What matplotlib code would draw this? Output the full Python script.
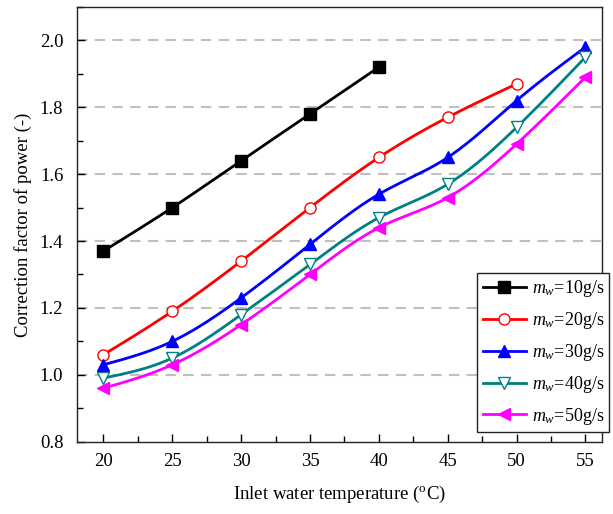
import numpy as np
import matplotlib
matplotlib.use("Agg")
import matplotlib.pyplot as plt
from matplotlib.ticker import MultipleLocator

plt.rcParams["font.family"] = ["Liberation Serif", "DejaVu Serif"]
plt.rcParams["mathtext.fontset"] = "custom"
plt.rcParams["mathtext.rm"] = "Liberation Serif"
plt.rcParams["mathtext.it"] = "Liberation Serif:italic"

# data
temp = [20, 25, 30, 35, 40, 45, 50, 55]
cf_10 = [1.37, 1.50, 1.64, 1.78, 1.92]
cf_20 = [1.06, 1.19, 1.34, 1.50, 1.65, 1.77, 1.87]
cf_30 = [1.03, 1.10, 1.23, 1.39, 1.54, 1.65, 1.82, 1.98]
cf_40 = [0.99, 1.05, 1.18, 1.33, 1.47, 1.57, 1.74, 1.95]
cf_50 = [0.96, 1.03, 1.15, 1.30, 1.44, 1.53, 1.69, 1.89]
labels = ["$m_w$=10g/s", "$m_w$=20g/s", "$m_w$=30g/s", "$m_w$=40g/s", "$m_w$=50g/s"]


def spline(x, y, n=200):
    # natural cubic spline, only used to draw a smooth connecting line
    x = np.asarray(x, float)
    y = np.asarray(y, float)
    k = len(x)
    h = np.diff(x)
    A = np.zeros((k, k))
    b = np.zeros(k)
    A[0, 0] = A[-1, -1] = 1
    for i in range(1, k - 1):
        A[i, i - 1] = h[i - 1]
        A[i, i] = 2 * (h[i - 1] + h[i])
        A[i, i + 1] = h[i]
        b[i] = 6 * ((y[i + 1] - y[i]) / h[i] - (y[i] - y[i - 1]) / h[i - 1])
    M = np.linalg.solve(A, b)
    xs = np.linspace(x[0], x[-1], n)
    idx = np.clip(np.searchsorted(x, xs) - 1, 0, k - 2)
    x0, x1 = x[idx], x[idx + 1]
    hh = x1 - x0
    t0 = x1 - xs
    t1 = xs - x0
    ys = (M[idx] * t0**3 + M[idx + 1] * t1**3) / (6 * hh) \
        + (y[idx] / hh - M[idx] * hh / 6) * t0 + (y[idx + 1] / hh - M[idx + 1] * hh / 6) * t1
    return xs, ys


fig = plt.figure(figsize=(6.13, 5.14), dpi=100)
ax = fig.add_axes([0.126, 0.1407, 0.856, 0.8457])

series = [cf_10, cf_20, cf_30, cf_40, cf_50]
colors = ["black", "red", "blue", "#008080", "magenta"]
markers = ["s", "o", "^", "v", "<"]
faces = ["black", "white", "blue", "white", "magenta"]
handles = []
for vals, c, m, fc in zip(series, colors, markers, faces):
    xv = temp[:len(vals)]
    xs, ys = spline(xv, vals)
    ax.plot(xs, ys, color=c, lw=2.0, zorder=3)
    ax.plot(xv, vals, ls="none", marker=m, ms=8, mfc=fc, mec=c, mew=1.0, zorder=4)
    (h,) = ax.plot([], [], color=c, lw=2.0, marker=m, ms=8, mfc=fc, mec=c, mew=1.0)
    handles.append(h)

ax.set_xlim(18.1, 56.2)
ax.set_ylim(0.8, 2.1)
ax.xaxis.set_major_locator(MultipleLocator(5))
ax.xaxis.set_minor_locator(MultipleLocator(2.5))
ax.yaxis.set_major_locator(MultipleLocator(0.2))
ax.yaxis.set_minor_locator(MultipleLocator(0.1))
ax.tick_params(which="both", direction="in", labelsize=13.5, width=1.0)
ax.tick_params(which="major", length=6)
ax.tick_params(which="minor", length=4)
ax.tick_params(axis="x", pad=8)
ax.tick_params(axis="y", pad=10)
for sp in ax.spines.values():
    sp.set_linewidth(1.0)
    sp.set_color("#222222")

for yv in [1.0, 1.2, 1.4, 1.6, 1.8, 2.0]:
    ax.axhline(yv, color="#c0c0c0", lw=1.5, ls=(0, (5, 3.5)), zorder=1)

ax.set_xlabel("Inlet water temperature ($^{\\rm o}$C)", fontsize=13.5, labelpad=10)
ax.set_ylabel("Correction factor of power (-)", fontsize=13.5, labelpad=6)

leg = ax.legend(handles=handles, labels=labels, loc="lower right",
                bbox_to_anchor=(1.014, 0.022), borderaxespad=0, fontsize=13,
                handlelength=2.4, labelspacing=0.6, handletextpad=0.3,
                borderpad=0.3, fancybox=False, framealpha=1, edgecolor="#222222")
leg.get_frame().set_linewidth(1.0)
leg.set_zorder(5)

fig.savefig("out.png", dpi=100)
